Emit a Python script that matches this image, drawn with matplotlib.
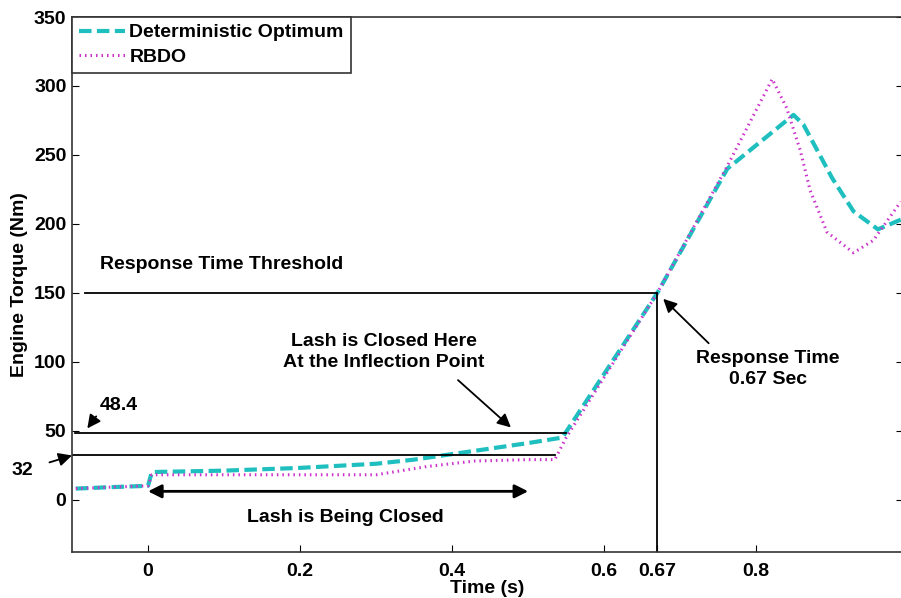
import matplotlib.pyplot as plt

plt.rcParams['font.family'] = 'Liberation Sans'
plt.rcParams['font.weight'] = 'bold'

# deterministic optimum curve
det_t = [-0.095, -0.05, 0.0, 0.005, 0.1, 0.2, 0.3, 0.35, 0.4, 0.45, 0.5, 0.545,
         0.67, 0.762, 0.849, 0.862, 0.90, 0.928, 0.96, 0.99]
det_tq = [8, 9, 10, 20, 21, 23, 26, 29, 33, 37, 41, 45,
          150, 240, 279, 272, 233, 209, 196, 203]

# RBDO curve
rbdo_t = [-0.095, -0.05, 0.0, 0.005, 0.1, 0.2, 0.3, 0.367, 0.43, 0.5, 0.535, 0.55,
          0.67, 0.762, 0.821, 0.84, 0.858, 0.871, 0.893, 0.928, 0.954, 0.99]
rbdo_tq = [8, 9, 10, 18, 18, 18, 18, 24, 28, 29, 29, 45,
           150, 242, 305, 284, 253, 224, 194, 179, 188, 216]

threshold = 150
inflection = 48.4
lash_level = 32
resp_time = 0.67

xticks = [0, 0.2, 0.4, 0.6, 0.67, 0.8]
xtick_labels = ['0', '0.2', '0.4', '0.6', '0.67', '0.8']
yticks = [0, 50, 100, 150, 200, 250, 300, 350]

fig = plt.figure(figsize=(9.01, 5.98), dpi=100)
ax = fig.add_axes([72 / 901, 46 / 598, 831 / 901, 535 / 598])

ax.plot(det_t, det_tq, color='#1fbfbf', linestyle='--', linewidth=3,
        dashes=(3, 1.3), label='Deterministic Optimum')
ax.plot(rbdo_t, rbdo_tq, color='#cc33cc', linestyle=':', linewidth=2.2,
        dashes=(0.5, 1.3), label='RBDO')

# reference lines
ax.plot([-0.083, resp_time], [threshold, threshold], color='black', lw=1.3)
ax.plot([resp_time, resp_time], [threshold, -38], color='black', lw=1.3)
ax.plot([-0.096, 0.55], [inflection, inflection], color='black', lw=1.3)
ax.plot([-0.1, 0.535], [lash_level, lash_level], color='black', lw=1.3)

fs = 14
ax.text(-0.063, 167, 'Response Time Threshold', fontsize=fs, fontweight='bold')
ax.text(0.31, 107, 'Lash is Closed Here\nAt the Inflection Point', fontsize=fs,
        fontweight='bold', ha='center', va='center', linespacing=1.3)
ax.annotate('', xy=(0.48, 51), xytext=(0.405, 88),
            arrowprops=dict(arrowstyle='-|>', color='black', lw=1.3, mutation_scale=20))
ax.text(-0.063, 65, '48.4', fontsize=fs, fontweight='bold')
ax.annotate('', xy=(-0.082, 50), xytext=(-0.066, 62),
            arrowprops=dict(arrowstyle='-|>', color='black', lw=1.3, mutation_scale=20))
ax.annotate('32', xy=(-0.1, 32), xytext=(-0.165, 21), annotation_clip=False,
            fontsize=fs, fontweight='bold', ha='center', va='center',
            arrowprops=dict(arrowstyle='-|>', color='black', lw=1.3, mutation_scale=20,
                            shrinkA=10, shrinkB=0))
ax.text(0.815, 95, 'Response Time\n0.67 Sec', fontsize=fs, fontweight='bold',
        ha='center', va='center', linespacing=1.3)
ax.annotate('', xy=(0.675, 147), xytext=(0.74, 112),
            arrowprops=dict(arrowstyle='-|>', color='black', lw=1.3, mutation_scale=20))
ax.annotate('', xy=(0.0, 6), xytext=(0.5, 6),
            arrowprops=dict(arrowstyle='<|-|>', color='black', lw=2, mutation_scale=20,
                            shrinkA=0, shrinkB=0))
ax.text(0.26, -13, 'Lash is Being Closed', fontsize=fs, fontweight='bold',
        ha='center', va='center')

ax.set_xlim(-0.1, 0.993)
ax.set_ylim(-38, 350)
ax.set_xticks(xticks)
ax.set_xticklabels(xtick_labels)
ax.set_yticks(yticks)
ax.tick_params(direction='in', length=5, labelsize=14, top=False, right=True)
ax.tick_params(axis='x', pad=8)
ax.tick_params(axis='y', pad=4)
for lab in ax.get_xticklabels() + ax.get_yticklabels():
    lab.set_fontweight('bold')
for s in ax.spines.values():
    s.set_linewidth(1.2)
    s.set_color('#333333')

ax.set_xlabel('Time (s)', fontsize=14, fontweight='bold', labelpad=0)
ax.set_ylabel('Engine Torque (Nm)', fontsize=14, fontweight='bold', labelpad=4)

leg = ax.legend(loc='upper left', fontsize=14, handlelength=2.4, handletextpad=0.2,
                borderaxespad=0, fancybox=False, framealpha=1, borderpad=0.35,
                labelspacing=0.35)
leg.get_frame().set_edgecolor('#333333')
leg.get_frame().set_linewidth(1.2)
for t in leg.get_texts():
    t.set_fontweight('bold')

fig.savefig('out.png', dpi=100)
